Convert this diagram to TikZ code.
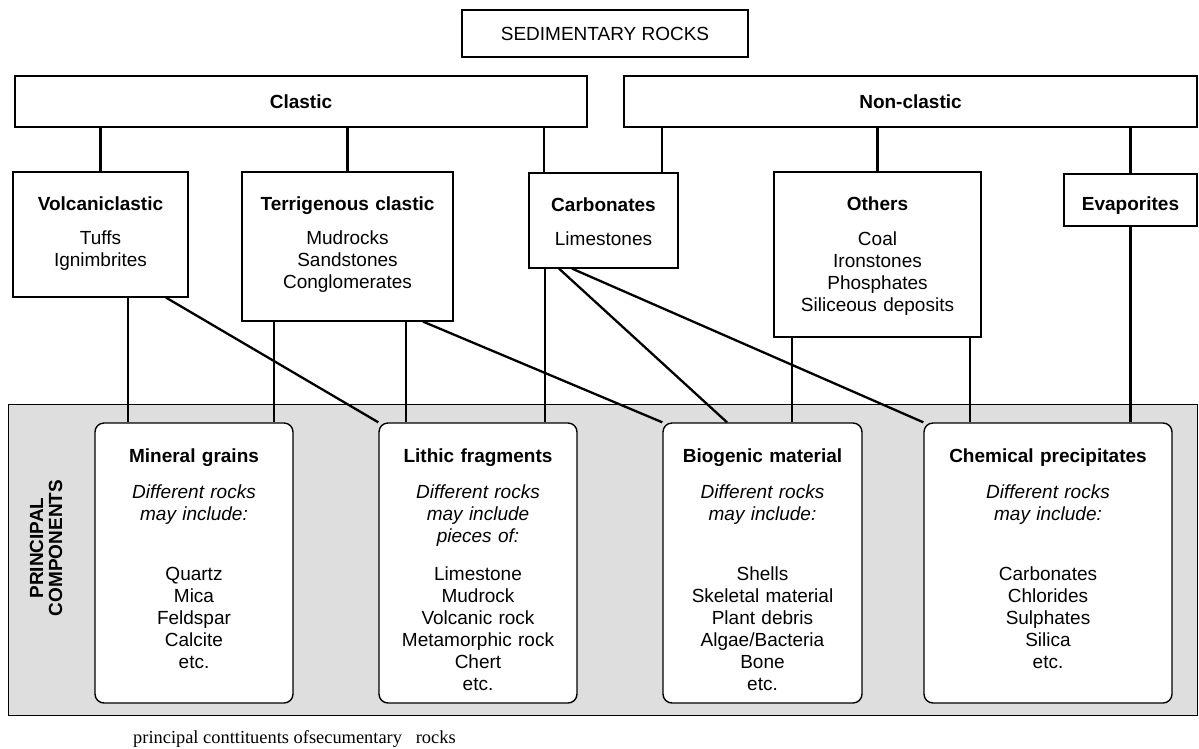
\documentclass[tikz,border=0pt]{standalone}
\usepackage{fontspec}
\setmainfont{Liberation Sans}
\newfontfamily\capfont{Liberation Serif}
\usetikzlibrary{positioning, calc}

\begin{document}
\begin{tikzpicture}[x=1pt, y=-1pt,
	every node/.style={font=\fontsize{19}{22}\selectfont},
	rockbox/.style={draw, line width=1.2pt, inner sep=0pt, align=center},
	partbox/.style={draw, line width=1.4pt, rounded corners=9pt, fill=white, inner sep=0pt, align=center,
		text height=39pt, text depth=241pt},
	link/.style={line width=2.3pt}]
	\useasboundingbox (0,0) rectangle (1199,748);

	% shaded band of principal components
	\node[draw, line width=1pt, fill=black!13, minimum width=1189pt, minimum height=311pt, inner sep=0pt] at (602.5, 559.5) (band) {};

	\node[rockbox, minimum width=286pt, minimum height=47pt] at (605, 33.5) (sed) {SEDIMENTARY ROCKS};
	\node[rockbox, minimum width=572pt, minimum height=51pt] at (301, 101.5) (clastic) {\textbf{Clastic}};
	\node[rockbox, minimum width=573pt, minimum height=51pt] at (910.5, 101.5) (nonclastic) {\textbf{Non-clastic}};

	\node[rockbox, text width=175pt, text height=38pt, text depth=87pt] at (100.5, 234.5) (volc) {\textbf{Volcaniclastic}\\[12pt] Tuffs\\ Ignimbrites};
	\node[rockbox, text width=211pt, text height=38pt, text depth=111pt] at (347.5, 246.5) (terr) {\textbf{Terrigenous clastic}\\[12pt] Mudrocks\\ Sandstones\\ Conglomerates};
	\node[rockbox, text width=149pt, text height=38pt, text depth=57pt] at (603.5, 220.5) (carb) {\textbf{Carbonates}\\[12pt] Limestones};
	\node[rockbox, text width=207pt, text height=38pt, text depth=127pt] at (877.5, 254.5) (others) {\textbf{Others}\\[13pt] Coal\\ Ironstones\\ Phosphates\\ Siliceous deposits};
	\node[rockbox, text width=133pt, text height=36pt, text depth=16pt] at (1130.5, 200) (evap) {\textbf{Evaporites}};

	\node[partbox, text width=198pt] at (194, 563) (mineral) {\textbf{Mineral grains}\\[14pt] \textit{Different rocks}\\ \textit{may include:}\\[38pt] Quartz\\ Mica\\ Feldspar\\ Calcite\\ etc.};
	\node[partbox, text width=198pt] at (478, 563) (lithic) {\textbf{Lithic fragments}\\[14pt] \textit{Different rocks}\\ \textit{may include}\\ \textit{pieces of:}\\[16pt] Limestone\\ Mudrock\\ Volcanic rock\\ Metamorphic rock\\ Chert\\ etc.};
	\node[partbox, text width=199pt] at (762.5, 563) (biogenic) {\textbf{Biogenic material}\\[14pt] \textit{Different rocks}\\ \textit{may include:}\\[38pt] Shells\\ Skeletal material\\ Plant debris\\ Algae/Bacteria\\ Bone\\ etc.};
	\node[partbox, text width=248pt] at (1048, 563) (chemical) {\textbf{Chemical precipitates}\\[14pt] \textit{Different rocks}\\ \textit{may include:}\\[38pt] Carbonates\\ Chlorides\\ Sulphates\\ Silica\\ etc.};

	\node[rotate=90, align=center, font=\fontsize{19}{19}\selectfont\bfseries] at (46, 548) (principal) {PRINCIPAL\\COMPONENTS};
	\node[anchor=base west, inner sep=0pt, font=\capfont\fontsize{18.4}{20}\selectfont] at (133, 743) (caption) {principal conttituents ofsecumentary\ \ \ rocks};

	\draw[link]
	(volc.north |- clastic.south) edge (volc.north)
	(terr.north |- clastic.south) edge (terr.north)
	([xshift=-59.5pt]carb.north |- clastic.south) edge ([xshift=-59.5pt]carb.north)
	([xshift=58.5pt]carb.north |- nonclastic.south) edge ([xshift=58.5pt]carb.north)
	(others.north |- nonclastic.south) edge (others.north)
	(evap.north |- nonclastic.south) edge (evap.north);

	\draw[link]
	([xshift=27.5pt]volc.south) edge ([xshift=27.5pt]volc.south |- mineral.north)
	([xshift=65.5pt]volc.south) edge (lithic.north west)
	([xshift=-73.5pt]terr.south) edge ([xshift=-73.5pt]terr.south |- mineral.north)
	([xshift=58.5pt]terr.south) edge ([xshift=58.5pt]terr.south |- lithic.north)
	([xshift=75.5pt]terr.south) edge (biogenic.north west)
	([xshift=-58.5pt]carb.south) edge ([xshift=-58.5pt]carb.south |- lithic.north)
	([xshift=-44.5pt]carb.south) edge ([xshift=-35.5pt]biogenic.north)
	([xshift=-31.5pt]carb.south) edge (chemical.north west)
	([xshift=-85.5pt]others.south) edge ([xshift=-85.5pt]others.south |- biogenic.north)
	([xshift=92.5pt]others.south) edge ([xshift=92.5pt]others.south |- chemical.north)
	(evap.south) edge (evap.south |- chemical.north);
\end{tikzpicture}
\end{document}
